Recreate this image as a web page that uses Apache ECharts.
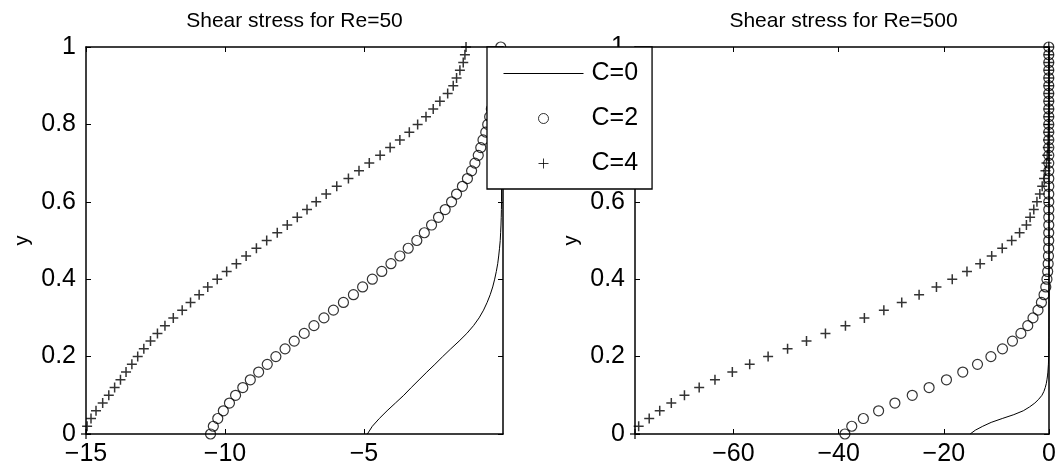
<!DOCTYPE html>
<html>
<head>
<meta charset="utf-8">
<script src="https://cdn.jsdelivr.net/npm/echarts@6/dist/echarts.min.js"></script>
<style>html,body{margin:0;padding:0;background:#fff}#c{width:1059px;height:474px}</style>
</head>
<body>
<div id="c"></div>
<script>
// ---------- data ----------
const titles = ['Shear stress for Re=50', 'Shear stress for Re=500'];
const seriesNames = ['C=0', 'C=2', 'C=4'];
const yAxisName = 'y';
const xTicksLeft = [-15, -10, -5];
const xTicksRight = [-60, -40, -20, 0];
const yTicks = [0, 0.2, 0.4, 0.6, 0.8, 1];

// sample levels of the marker series
const yLevels = [0, 0.02, 0.04, 0.06, 0.08, 0.1, 0.12, 0.14, 0.16, 0.18, 0.2, 0.22, 0.24, 0.26, 0.28, 0.3,
  0.32, 0.34, 0.36, 0.38, 0.4, 0.42, 0.44, 0.46, 0.48, 0.5, 0.52, 0.54, 0.56, 0.58, 0.6, 0.62, 0.64, 0.66,
  0.68, 0.7, 0.72, 0.74, 0.76, 0.78, 0.8, 0.82, 0.84, 0.86, 0.88, 0.9, 0.92, 0.94, 0.96, 0.98, 1];

// Re=50
const re50C2 = [-10.52, -10.42, -10.26, -10.06, -9.84, -9.62, -9.36, -9.09, -8.79, -8.48, -8.17, -7.84, -7.51,
  -7.15, -6.80, -6.44, -6.10, -5.74, -5.38, -5.05, -4.70, -4.36, -4.03, -3.71, -3.41, -3.10, -2.83, -2.57,
  -2.32, -2.08, -1.85, -1.67, -1.46, -1.28, -1.13, -1.01, -0.89, -0.80, -0.72, -0.62, -0.55, -0.48, -0.42,
  -0.36, -0.31, -0.26, -0.21, -0.17, -0.14, -0.11, -0.08];
const re50C4 = [-15.00, -14.96, -14.82, -14.64, -14.40, -14.18, -13.97, -13.76, -13.56, -13.35, -13.14, -12.92,
  -12.68, -12.43, -12.16, -11.86, -11.54, -11.24, -10.93, -10.62, -10.28, -9.94, -9.59, -9.24, -8.87, -8.50,
  -8.12, -7.76, -7.40, -7.05, -6.72, -6.36, -5.98, -5.56, -5.18, -4.81, -4.42, -4.06, -3.71, -3.37, -3.07,
  -2.77, -2.51, -2.27, -1.99, -1.79, -1.67, -1.55, -1.43, -1.37, -1.33];
const re50C0y = [0, 0.02, 0.04, 0.06, 0.08, 0.1, 0.12, 0.14, 0.16, 0.18, 0.2, 0.22, 0.24, 0.26, 0.28, 0.3,
  0.32, 0.34, 0.36, 0.38, 0.4, 0.42, 0.44, 0.46, 0.48, 0.5, 0.52, 0.54, 0.56, 0.58, 0.6, 0.7, 0.8, 0.9, 1];
const re50C0x = [-4.88, -4.70, -4.45, -4.17, -3.87, -3.57, -3.30, -3.02, -2.74, -2.45, -2.17, -1.88, -1.58,
  -1.30, -1.06, -0.86, -0.70, -0.57, -0.46, -0.37, -0.30, -0.24, -0.19, -0.155, -0.125, -0.10, -0.085,
  -0.072, -0.063, -0.057, -0.053, -0.05, -0.05, -0.05, -0.05];

// Re=500
const re500C2 = [-38.8, -37.5, -35.3, -32.4, -29.3, -26.0, -22.8, -19.5, -16.4, -13.6, -11.05, -8.85, -6.95,
  -5.35, -4.05, -3.05, -2.1, -1.45, -0.95, -0.62, -0.40, -0.26, -0.17, -0.11, -0.08, -0.06, -0.06, -0.05,
  -0.05, -0.05, -0.05, -0.05, -0.05, -0.05, -0.05, -0.05, -0.05, -0.05, -0.05, -0.05, -0.05, -0.05, -0.05,
  -0.05, -0.05, -0.05, -0.05, -0.05, -0.05, -0.05, -0.05];
const re500C4 = [-78.7, -78.0, -76.0, -74.0, -71.8, -69.3, -66.5, -63.5, -60.2, -56.9, -53.4, -49.7, -46.1,
  -42.5, -38.7, -35.1, -31.4, -28.0, -24.7, -21.4, -18.4, -15.6, -13.1, -10.9, -8.9, -7.1, -5.6, -4.3,
  -3.6, -2.9, -2.3, -1.75, -1.3, -0.95, -0.68, -0.48, -0.34, -0.24, -0.17, -0.12, -0.09, -0.07, -0.06,
  -0.06, -0.05, -0.05, -0.05, -0.05, -0.05, -0.05, -0.05];
const re500C0y = [0, 0.01, 0.02, 0.03, 0.04, 0.05, 0.06, 0.07, 0.08, 0.09, 0.1, 0.11, 0.12, 0.13, 0.14, 0.15,
  0.16, 0.18, 0.2, 0.25, 0.3, 0.5, 0.75, 1];
const re500C0x = [-15.0, -14.0, -12.6, -11.0, -8.9, -6.7, -4.9, -3.7, -2.7, -1.95, -1.35, -0.98, -0.72, -0.53,
  -0.40, -0.30, -0.22, -0.12, -0.06, -0.02, -0.01, -0.01, -0.01, -0.01];

// axis ranges
const xRangeLeft = [-15, 0];
const xRangeRight = [-78.7, 0];
const yRange = [0, 1];

// ---------- chart ----------
const FONT = '"Liberation Sans", Arial, Helvetica, sans-serif';
const pair = (xs, ys) => xs.map((x, i) => [x, ys[i]]);
const fmt = v => String(v).replace('-', '\u2212');
const grids = [
  {left: 86, top: 47, width: 417, height: 387},
  {left: 635, top: 47, width: 417, height: 387}
];
const lineCol = '#000';
function xAx(gi, range, ticks, pos, labels) {
  return {
    type: 'value', gridIndex: gi, position: pos, min: range[0], max: range[1],
    axisLine: {show: true, onZero: false, lineStyle: {color: lineCol, width: 1.5}},
    axisTick: {show: true, inside: true, length: 5, customValues: ticks, lineStyle: {color: lineCol, width: 1}},
    axisLabel: {show: labels, customValues: ticks, formatter: fmt, color: '#000', fontSize: 25,
      fontFamily: FONT, margin: 8},
    splitLine: {show: false}
  };
}
function yAx(gi, pos, labels) {
  return {
    type: 'value', gridIndex: gi, position: pos, min: yRange[0], max: yRange[1],
    name: labels ? yAxisName : '', nameLocation: 'middle', nameGap: 54,
    nameTextStyle: {fontSize: 20, color: '#000', fontFamily: FONT},
    axisLine: {show: true, onZero: false, lineStyle: {color: lineCol, width: 1.5}},
    axisTick: {show: true, inside: true, length: 5, customValues: yTicks, lineStyle: {color: lineCol, width: 1}},
    axisLabel: {show: labels, customValues: yTicks, formatter: fmt, color: '#000', fontSize: 25,
      fontFamily: FONT, margin: 10},
    splitLine: {show: false}
  };
}
const circleStyle = {color: 'transparent', borderColor: '#000', borderWidth: 1.2};
const plusStyle = {color: 'transparent', borderColor: '#000', borderWidth: 1.5};
const plusSymbol = 'path://M5 0L5 10M0 5L10 5';
function seriesFor(xi, c0, c2, c4) {
  return [
    {name: seriesNames[0], type: 'line', xAxisIndex: xi, yAxisIndex: xi, data: c0, symbol: 'none',
      showSymbol: false, lineStyle: {color: '#000', width: 1}, itemStyle: {color: '#000'}, z: 3},
    {name: seriesNames[1], type: 'scatter', xAxisIndex: xi, yAxisIndex: xi, data: c2, symbol: 'circle',
      symbolSize: 10, itemStyle: circleStyle, clip: false, z: 3},
    {name: seriesNames[2], type: 'scatter', xAxisIndex: xi, yAxisIndex: xi, data: c4, symbol: plusSymbol,
      symbolSize: 10, symbolKeepAspect: true, itemStyle: plusStyle, clip: false, z: 3}
  ];
}

const chart = echarts.init(document.getElementById('c'), null, {renderer: 'canvas'});
chart.setOption({
  animation: false,
  backgroundColor: '#fff',
  title: [
    {text: titles[0], left: 294.5, top: 11, textAlign: 'center', padding: 0,
      textStyle: {fontSize: 21, fontWeight: 'normal', color: '#000', fontFamily: FONT}},
    {text: titles[1], left: 843.5, top: 11, textAlign: 'center', padding: 0,
      textStyle: {fontSize: 21, fontWeight: 'normal', color: '#000', fontFamily: FONT}}
  ],
  grid: grids,
  xAxis: [
    xAx(0, xRangeLeft, xTicksLeft, 'bottom', true),
    xAx(1, xRangeRight, xTicksRight, 'bottom', true),
    xAx(0, xRangeLeft, xTicksLeft, 'top', false),
    xAx(1, xRangeRight, xTicksRight, 'top', false)
  ],
  yAxis: [
    yAx(0, 'left', true),
    yAx(1, 'left', true),
    yAx(0, 'right', false),
    yAx(1, 'right', false)
  ],
  legend: {
    orient: 'vertical', left: 487, top: 47, selectedMode: false,
    backgroundColor: '#fff', borderColor: '#000', borderWidth: 1.3, borderRadius: 0,
    padding: [14, 14, 13, 16], itemWidth: 80, itemHeight: 10, itemGap: 20,
    lineStyle: {width: 1, color: '#000'},
    itemStyle: {borderWidth: 1},
    textStyle: {fontSize: 25, color: '#000', fontFamily: FONT, padding: [0, 0, 0, 3]},
    data: [
      {name: seriesNames[0], itemStyle: {opacity: 0}},
      {name: seriesNames[1]},
      {name: seriesNames[2]}
    ],
    z: 10
  },
  series: [
    ...seriesFor(0, pair(re50C0x, re50C0y), pair(re50C2, yLevels), pair(re50C4, yLevels)),
    ...seriesFor(1, pair(re500C0x, re500C0y), pair(re500C2, yLevels), pair(re500C4, yLevels))
  ]
});
</script>
</body>
</html>
